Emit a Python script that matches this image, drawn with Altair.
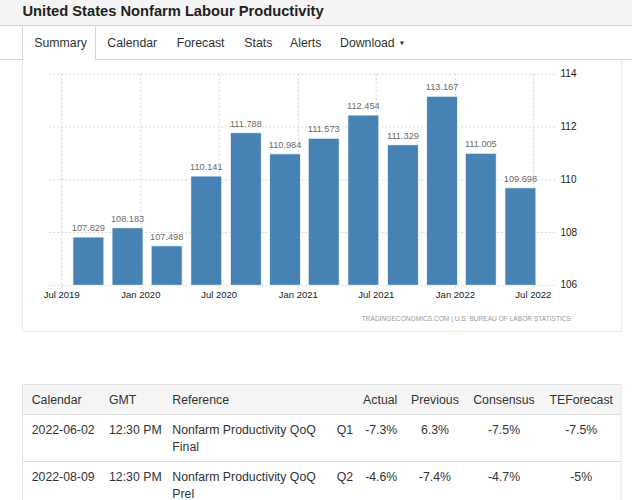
import altair as alt
import pandas as pd

# Quarterly nonfarm labour productivity index
quarters = ["2019-09-01", "2019-12-01", "2020-03-01", "2020-06-01", "2020-09-01", "2020-12-01",
            "2021-03-01", "2021-06-01", "2021-09-01", "2021-12-01", "2022-03-01", "2022-06-01"]
productivity = [107.829, 108.183, 107.498, 110.141, 111.788, 110.984,
                111.573, 112.454, 111.329, 113.167, 111.005, 109.698]

y_ticks = [106, 108, 110, 112, 114]
x_tick_dates = ["2019-07-01", "2020-01-01", "2020-07-01", "2021-01-01",
                "2021-07-01", "2022-01-01", "2022-07-01"]
x_tick_labels = ["Jul 2019", "Jan 2020", "Jul 2020", "Jan 2021",
                 "Jul 2021", "Jan 2022", "Jul 2022"]

page_title = "United States Nonfarm Labour Productivity"
tabs = ["Summary", "Calendar", "Forecast", "Stats", "Alerts", "Download"]
source_note = "TRADINGECONOMICS.COM | U.S. BUREAU OF LABOR STATISTICS"

# Release calendar table
table_columns = ["Calendar", "GMT", "Reference", "", "Actual", "Previous", "Consensus", "TEForecast"]
release_dates = ["2022-06-02", "2022-08-09"]
release_times = ["12:30 PM", "12:30 PM"]
references = ["Nonfarm Productivity QoQ Final", "Nonfarm Productivity QoQ Prel"]
periods = ["Q1", "Q2"]
actual = ["-7.3%", "-4.6%"]
previous = ["6.3%", "-7.4%"]
consensus = ["-7.5%", "-4.7%"]
te_forecast = ["-7.5%", "-5%"]

FONT = "Liberation Sans"
TEXT = "#333333"
W, H = 632, 500

# ---- scales for the bar chart panel ----
x_scale = alt.Scale(
    type="utc",
    domain=[alt.DateTime(year=2019, month=7, date=1, utc=True),
            alt.DateTime(year=2022, month=7, date=1, utc=True)],
    range=[61.7, 533.3],
    padding=0,
)
y_scale = alt.Scale(domain=[106, 114], range=[285.3, 74.3], nice=False, zero=False, padding=0)

bars_df = pd.DataFrame({"quarter": quarters, "value": productivity})
ticks_df = pd.DataFrame({"v": y_ticks})
xticks_df = pd.DataFrame({"d": x_tick_dates, "label": x_tick_labels})
one = pd.DataFrame({"k": [0]})


def rect(x0, x1, y0, y1, fill):
    return alt.Chart(one).mark_rect(fill=fill).encode(
        x=alt.value(x0), x2=alt.value(x1), y=alt.value(y0), y2=alt.value(y1))


def hline(x0, x1, y, color):
    return alt.Chart(one).mark_rule(color=color, strokeWidth=1).encode(
        x=alt.value(x0), x2=alt.value(x1), y=alt.value(y))


def vline(x, y0, y1, color):
    return alt.Chart(one).mark_rule(color=color, strokeWidth=1).encode(
        x=alt.value(x), y=alt.value(y0), y2=alt.value(y1))


def label(text, x, y, size=12.3, align="left", color=TEXT, weight="normal", baseline="alphabetic"):
    return alt.Chart(one).mark_text(
        font=FONT, fontSize=size, align=align, baseline=baseline, color=color, fontWeight=weight
    ).encode(x=alt.value(x), y=alt.value(y), text=alt.value(text))


layers = []

# ---- page header and tabs ----
layers.append(rect(0, W, 0, 25, "#f4f4f4"))
layers.append(hline(0, W, 25.5, "#d4d4d4"))
layers.append(label(page_title, 22.5, 15.5, size=14.7, color="#222222", weight="bold"))
layers.append(hline(0, 22.5, 59.5, "#d4d4d4"))
layers.append(hline(95.5, W, 59.5, "#d4d4d4"))
layers.append(vline(22.5, 25.5, 59.5, "#d4d4d4"))
layers.append(vline(95.5, 25.5, 59.5, "#d4d4d4"))
tab_x = [34.3, 107.3, 176.7, 244.3, 290, 340]
for name, tx in zip(tabs, tab_x):
    layers.append(label(name, tx, 46.7))
layers.append(
    alt.Chart(one).mark_point(shape="triangle-down", filled=True, size=18, color=TEXT, opacity=1)
    .encode(x=alt.value(402), y=alt.value(43.4))
)

# ---- chart panel frame ----
layers.append(vline(22.5, 59.5, 331.5, "#ececec"))
layers.append(vline(621.5, 59.5, 331.5, "#ececec"))
layers.append(hline(22.5, 621.5, 331.5, "#ececec"))

# ---- gridlines ----
layers.append(
    alt.Chart(ticks_df).mark_rule(color="#d6d6d6", strokeDash=[2, 2], strokeWidth=1).encode(
        y=alt.Y("v:Q", scale=y_scale, axis=None), x=alt.value(49.3), x2=alt.value(556.7))
)
layers.append(
    alt.Chart(xticks_df).mark_rule(color="#d6d6d6", strokeDash=[2, 2], strokeWidth=1).encode(
        x=alt.X("d:T", scale=x_scale, axis=None), y=alt.value(74.3), y2=alt.value(290))
)

# ---- bars and value labels ----
layers.append(
    alt.Chart(bars_df).mark_bar(size=31, color="#4682b4", stroke="#ffffff", strokeWidth=0.8).encode(
        x=alt.X("quarter:T", scale=x_scale, axis=None),
        y=alt.Y("value:Q", scale=y_scale, axis=None),
        y2=alt.datum(106),
    )
)
layers.append(
    alt.Chart(bars_df).mark_text(font=FONT, fontSize=9.2, color="#6b6b6b", baseline="alphabetic", dy=-6).encode(
        x=alt.X("quarter:T", scale=x_scale, axis=None),
        y=alt.Y("value:Q", scale=y_scale, axis=None),
        text=alt.Text("value:Q", format=".3f"),
    )
)

# ---- axis labels ----
layers.append(
    alt.Chart(xticks_df).mark_text(font=FONT, fontSize=9.5, color="#1a1a1a", baseline="alphabetic").encode(
        x=alt.X("d:T", scale=x_scale, axis=None), y=alt.value(297.7), text="label:N")
)
layers.append(
    alt.Chart(ticks_df).mark_text(font=FONT, fontSize=10, color="#1a1a1a", align="left", baseline="middle").encode(
        y=alt.Y("v:Q", scale=y_scale, axis=None), x=alt.value(560.5), text="v:Q")
)
layers.append(label(source_note, 571, 319, size=6.6, align="right", color="#999999", baseline="middle"))

# ---- release calendar table ----
layers.append(rect(22.5, 621, 384.5, 414.5, "#f5f5f5"))
layers.append(hline(22.5, 621, 384.5, "#e3e3e3"))
layers.append(hline(22.5, 621, 414.5, "#dddddd"))
layers.append(hline(22.5, 621, 461.5, "#dddddd"))
layers.append(vline(22.5, 384.5, H, "#e3e3e3"))
layers.append(vline(621, 384.5, H, "#e3e3e3"))

col_x = [31.7, 109, 172.3, 336.7, 397.3, 434.9, 504, 581.2]
col_align = ["left", "left", "left", "left", "right", "center", "center", "center"]
for name, cx, ca in zip(table_columns, col_x, col_align):
    if name:
        layers.append(label(name, cx, 404, align=ca))

row_y = [434.3, 481]
line_gap = 16.7
for i, ry in enumerate(row_y):
    words = references[i].split(" ")
    ref_lines = [" ".join(words[:-1]), words[-1]]
    cells = [release_dates[i], release_times[i], None, periods[i],
             actual[i], previous[i], consensus[i], te_forecast[i]]
    for cell, cx, ca in zip(cells, col_x, col_align):
        if cell is not None:
            layers.append(label(cell, cx, ry, align=ca))
    for j, line in enumerate(ref_lines):
        layers.append(label(line, col_x[2], ry + j * line_gap))

chart = (
    alt.layer(*layers)
    .properties(width=W, height=H, padding=0, autosize=alt.AutoSizeParams(type="none"),
                background="#ffffff")
    .configure_view(stroke="transparent")
)

chart.save("out.html", embed_options={"renderer": "svg", "actions": False})
